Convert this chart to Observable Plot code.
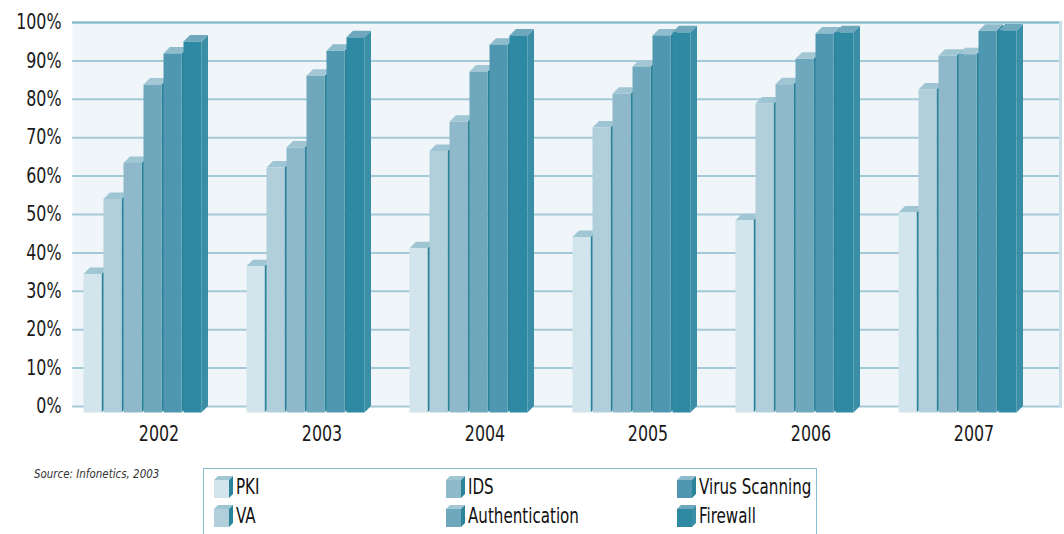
<!DOCTYPE html>
<html>
<head>
<meta charset="utf-8">
<script src="https://cdn.jsdelivr.net/npm/d3@7"></script>
<script src="https://cdn.jsdelivr.net/npm/@observablehq/plot@0.6"></script>
<style>
  body { margin: 0; background: #fff; }
  #wrap { position: relative; width: 1064px; height: 534px; overflow: hidden; font-family: "Liberation Sans Narrow", "DejaVu Sans Condensed", "Arial Narrow", sans-serif; font-stretch: condensed; }
  #foot { position: relative; height: 76px; }
  #source { position: absolute; left: 34px; top: 8px; font-size: 13px; font-style: italic; color: #333; white-space: nowrap; transform: scaleX(0.88); transform-origin: left center; }
  #legend { position: absolute; left: 203px; top: 10px; width: 614px; height: 90px; border: 1px solid #8cbfd0; box-sizing: border-box; background: #fff; }
  .item { position: absolute; display: flex; align-items: center; height: 24px; font-size: 21px; color: #111; white-space: nowrap; }
  .item svg { margin-right: 3px; flex: none; }
  .item span { display: inline-block; transform: scaleX(0.8); transform-origin: left center; }
</style>
</head>
<body>
<div id="wrap"><div id="chart"></div><div id="foot"><div id="source">Source: Infonetics, 2003</div><div id="legend"></div></div></div>
<script>
const years = ["2002", "2003", "2004", "2005", "2006", "2007"];
const seriesNames = ["PKI", "VA", "IDS", "Authentication", "Virus Scanning", "Firewall"];
const pki      = [34.4, 36.4, 41.1, 44.0, 48.4, 50.4];
const va       = [53.9, 62.1, 66.4, 72.5, 78.8, 82.4];
const ids      = [63.3, 67.3, 74.0, 81.3, 83.8, 91.2];
const auth     = [83.7, 86.0, 87.1, 88.4, 90.4, 91.6];
const virus    = [91.8, 92.5, 94.1, 96.5, 97.0, 97.7];
const firewall = [94.9, 96.0, 96.5, 97.3, 97.3, 97.8];
const yTicks = [0, 10, 20, 30, 40, 50, 60, 70, 80, 90, 100];

const frontColors = ["#d2e5ec", "#b0cfdb", "#8fb9cb", "#6fa8bd", "#4f97b0", "#2e8aa2"];
const capColors   = ["#a0c6d4", "#9fc5d4", "#a0c6d4", "#a3c7d5", "#8ebccc", "#6fa8bc"];
const sideColors  = ["#2b8399", "#2b8399", "#2b8399", "#2b8399", "#2b8399", "#3a8fa6"];

const seriesValues = [pki, va, ids, auth, virus, firewall];
const data = years.flatMap((yr, j) => seriesNames.map((s, i) => ({year: yr, series: s, value: seriesValues[i][j]})));

const DX = 6.5, DY = 6.5;
const font = '"Liberation Sans Narrow", "DejaVu Sans Condensed", "Arial Narrow", sans-serif';

const chart = Plot.plot({
  width: 1064,
  height: 458,
  marginLeft: 72,
  marginRight: 4,
  marginTop: 22,
  marginBottom: 52,
  style: {fontFamily: font, fontSize: "21px", color: "#1a1a1a", background: "white", fontStretch: "condensed"},
  x: {domain: years, range: [76.5, 1054.5], padding: 0},
  y: {domain: [0, 100]},
  marks: [
    Plot.frame({fill: "#eff5f8", stroke: null}),
    Plot.ruleY(yTicks, {stroke: "#a5cad7", strokeWidth: 2}),
    Plot.ruleY([100], {stroke: "#84b9cb", strokeWidth: 2}),
    Plot.frame({anchor: "right", stroke: "#c9dee6", strokeWidth: 3}),
    Plot.axisY(yTicks, {tickSize: 0, tickPadding: 11, tickFormat: d => d + "%", fontSize: 21, label: null}),
    Plot.axisX({tickSize: 0, tickPadding: 20, fontSize: 21, label: null}),
    ...seriesNames.map((s, i) => Plot.barY(data.filter(d => d.series === s), {
      x: "year", y: "value", fill: frontColors[i],
      dx: (i - 2.5) * 20 - 16,
      insetLeft: 72.5, insetRight: 72.5, insetBottom: -DY
    }))
  ]
});

// condense axis text horizontally to mimic the reference's narrow face
chart.querySelectorAll('g[aria-label="y-axis tick label"] text, g[aria-label="x-axis tick label"] text').forEach(t => {
  const tr = t.getAttribute("transform") || "";
  t.setAttribute("transform", tr + " scale(0.84 1)");
});

// add 3D side faces and top caps derived from the rendered bars
const NS = "http://www.w3.org/2000/svg";
chart.querySelectorAll('g[aria-label="bar"]').forEach((g, i) => {
  g.querySelectorAll("rect").forEach(r => {
    const x = +r.getAttribute("x"), y = +r.getAttribute("y");
    const w = +r.getAttribute("width"), h = +r.getAttribute("height");
    const side = document.createElementNS(NS, "polygon");
    side.setAttribute("points", `${x + w},${y} ${x + w + DX},${y - DY} ${x + w + DX},${y + h - DY} ${x + w},${y + h}`);
    side.setAttribute("fill", sideColors[i]);
    const cap = document.createElementNS(NS, "polygon");
    cap.setAttribute("points", `${x},${y} ${x + DX},${y - DY} ${x + w + DX},${y - DY} ${x + w},${y}`);
    cap.setAttribute("fill", capColors[i]);
    g.insertBefore(side, r);
    g.insertBefore(cap, r);
  });
});
document.getElementById("chart").appendChild(chart);

// legend
const legend = d3.select("#legend");
const colX = [10, 242, 473];
const rowY = [6, 35];
const order = [[0, 0, 0], [1, 0, 1], [2, 1, 0], [3, 1, 1], [4, 2, 0], [5, 2, 1]];
order.forEach(([i, c, r]) => {
  const item = legend.append("div").attr("class", "item").style("left", colX[c] + "px").style("top", rowY[r] + "px");
  const svg = item.append("svg").attr("width", 19).attr("height", 22);
  svg.append("polygon").attr("points", "0,4 4,0 19,0 15,4").attr("fill", capColors[i]);
  svg.append("polygon").attr("points", "15,4 19,0 19,18 15,22").attr("fill", sideColors[i]);
  svg.append("rect").attr("x", 0).attr("y", 4).attr("width", 15).attr("height", 18).attr("fill", frontColors[i]);
  item.append("span").text(seriesNames[i]);
});
</script>
</body>
</html>
